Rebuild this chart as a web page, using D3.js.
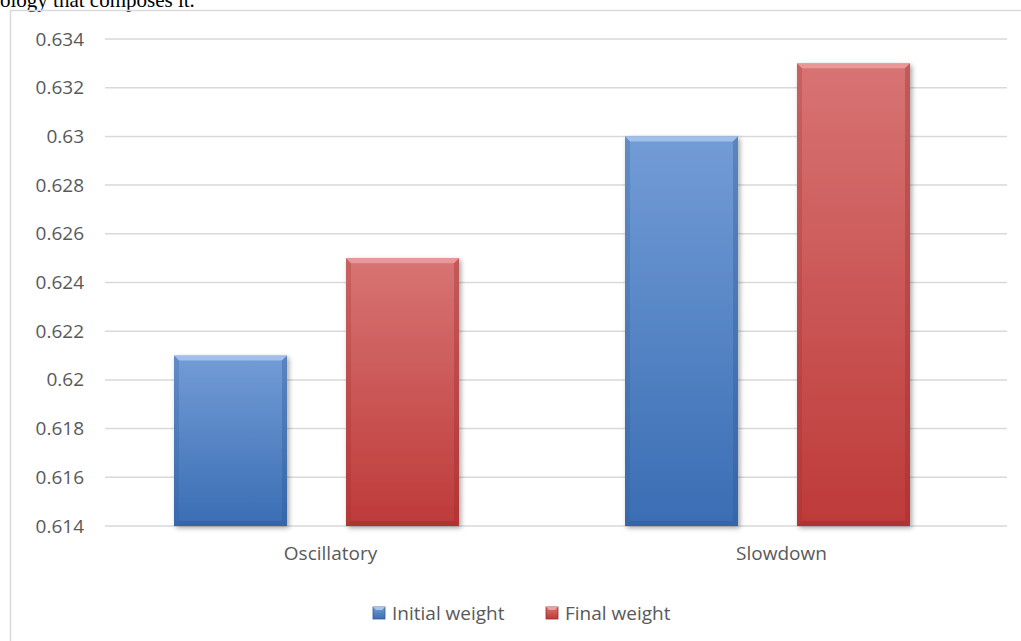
<!DOCTYPE html>
<html>
<head>
<meta charset="utf-8">
<script src="https://cdn.jsdelivr.net/npm/d3@7"></script>
<style>
  body { margin: 0; background: #fff; }
  svg { display: block; }
  .tick text { font-family: "Open Sans", "Noto Sans", sans-serif; fill: #595959; }
</style>
</head>
<body>
<svg id="chart" width="1021" height="641"></svg>
<script>
const categories = ['Oscillatory', 'Slowdown']
const seriesNames = ['Initial weight', 'Final weight']
const initialWeight = [0.621, 0.630]
const finalWeight = [0.625, 0.633]
const yTicks = [0.614, 0.616, 0.618, 0.62, 0.622, 0.624, 0.626, 0.628, 0.63, 0.632, 0.634]

const svg = d3.select('#chart')

// stray caption from the page above the chart (cut at the top, like the source)
svg.append('text')
  .attr('x', 0).attr('y', 7)
  .attr('font-family', '"Liberation Serif", "Times New Roman", serif')
  .attr('font-size', 21)
  .attr('fill', '#000')
  .text('ology that composes it.')

// chart frame
svg.append('rect')
  .attr('x', 10.5).attr('y', 10.5)
  .attr('width', 1030).attr('height', 650)
  .attr('fill', 'none')
  .attr('stroke', '#d9d9d9')
  .attr('stroke-width', 1.5)

const margin = { top: 39, left: 105, right: 1007, bottom: 526 }

const yScale = d3.scaleLinear()
  .domain([0.614, 0.634])
  .range([margin.bottom, margin.top])

const xAxisScale = d3.scaleBand()
  .domain(categories)
  .range([margin.left, margin.right])

// bars sit a little left of the label centres in the original
const x0 = d3.scaleBand()
  .domain(categories)
  .range([91, 993])

const x1 = d3.scaleBand()
  .domain(seriesNames)
  .range([83, 368])
  .paddingInner(0.343)

const defs = svg.append('defs')

const palettes = {
  'Initial weight': { top: '#729cd6', bottom: '#3a6db4', edge: '#a9c5ec', dark: '#2f5a96' },
  'Final weight': { top: '#d77473', bottom: '#be3a39', edge: '#ec9f9d', dark: '#9a2b2b' }
}

seriesNames.forEach((s, i) => {
  const g = defs.append('linearGradient')
    .attr('id', 'grad' + i)
    .attr('x1', 0).attr('y1', 0).attr('x2', 0).attr('y2', 1)
  g.append('stop').attr('offset', '0%').attr('stop-color', palettes[s].top)
  g.append('stop').attr('offset', '100%').attr('stop-color', palettes[s].bottom)
})

const shadow = defs.append('filter')
  .attr('id', 'shadow')
  .attr('x', '-10%').attr('y', '-10%').attr('width', '130%').attr('height', '130%')
shadow.append('feDropShadow')
  .attr('dx', 2).attr('dy', 2).attr('stdDeviation', 2.5)
  .attr('flood-color', '#000').attr('flood-opacity', 0.35)

// gridlines
svg.append('g')
  .selectAll('line')
  .data(yTicks)
  .enter()
  .append('line')
  .attr('x1', margin.left).attr('x2', margin.right)
  .attr('y1', d => yScale(d)).attr('y2', d => yScale(d))
  .attr('stroke', '#d9d9d9')
  .attr('stroke-width', 1.5)

// y axis labels
const leftAxis = d3.axisLeft(yScale)
  .tickValues(yTicks)
  .tickFormat(d => String(+d.toFixed(3)))
  .tickSize(0)
  .tickPadding(0)

svg.append('g')
  .attr('transform', 'translate(84, 0)')
  .call(leftAxis)
  .call(g => g.select('.domain').remove())
  .selectAll('text')
  .attr('font-size', 19)

// bars
const rows = []
categories.forEach((c, i) => {
  rows.push({ cat: c, series: 'Initial weight', value: initialWeight[i], idx: 0 })
  rows.push({ cat: c, series: 'Final weight', value: finalWeight[i], idx: 1 })
})

const barGroup = svg.append('g')
const bevel = 5

const bars = barGroup.selectAll('g.bar')
  .data(rows)
  .enter()
  .append('g')
  .attr('class', 'bar')

bars.append('rect')
  .attr('x', d => x0(d.cat) + x1(d.series))
  .attr('y', d => yScale(d.value))
  .attr('width', x1.bandwidth())
  .attr('height', d => yScale(0.614) - yScale(d.value))
  .attr('fill', d => `url(#grad${d.idx})`)
  .attr('filter', 'url(#shadow)')

// top bevel
bars.append('polygon')
  .attr('points', d => {
    const x = x0(d.cat) + x1(d.series), y = yScale(d.value), w = x1.bandwidth()
    return [[x, y], [x + w, y], [x + w - bevel, y + bevel], [x + bevel, y + bevel]].join(' ')
  })
  .attr('fill', d => palettes[d.series].edge)
  .attr('opacity', 0.85)

// side bevels
bars.append('polygon')
  .attr('points', d => {
    const x = x0(d.cat) + x1(d.series), y = yScale(d.value), b = yScale(0.614)
    return [[x, y], [x + bevel, y + bevel], [x + bevel, b - bevel], [x, b]].join(' ')
  })
  .attr('fill', d => palettes[d.series].dark)
  .attr('opacity', 0.25)

bars.append('polygon')
  .attr('points', d => {
    const x = x0(d.cat) + x1(d.series) + x1.bandwidth(), y = yScale(d.value), b = yScale(0.614)
    return [[x, y], [x - bevel, y + bevel], [x - bevel, b - bevel], [x, b]].join(' ')
  })
  .attr('fill', d => palettes[d.series].dark)
  .attr('opacity', 0.35)

bars.append('polygon')
  .attr('points', d => {
    const x = x0(d.cat) + x1(d.series), w = x1.bandwidth(), b = yScale(0.614)
    return [[x, b], [x + bevel, b - bevel], [x + w - bevel, b - bevel], [x + w, b]].join(' ')
  })
  .attr('fill', d => palettes[d.series].dark)
  .attr('opacity', 0.45)

// x axis labels
const bottomAxis = d3.axisBottom(xAxisScale)
  .tickSize(0)
  .tickPadding(0)

svg.append('g')
  .attr('transform', 'translate(0, 546)')
  .call(bottomAxis)
  .call(g => g.select('.domain').remove())
  .selectAll('text')
  .attr('font-size', 19)

// legend
const legendX = d3.scaleOrdinal()
  .domain(seriesNames)
  .range([373, 546])

const legend = svg.append('g')
  .selectAll('g')
  .data(seriesNames)
  .enter()
  .append('g')
  .attr('transform', d => `translate(${legendX(d)}, 607)`)

legend.append('rect')
  .attr('width', 12).attr('height', 12)
  .attr('fill', (d, i) => `url(#grad${i})`)
  .attr('stroke', d => palettes[d].dark)
  .attr('stroke-width', 0.8)

legend.append('polygon')
  .attr('points', '0,0 12,0 9,3 3,3')
  .attr('fill', d => palettes[d].edge)

legend.append('text')
  .attr('x', 19)
  .attr('y', 6)
  .attr('dy', '0.35em')
  .attr('font-family', '"Open Sans", "Noto Sans", sans-serif')
  .attr('font-size', 19)
  .attr('fill', '#595959')
  .text(d => d)
</script>
</body>
</html>
